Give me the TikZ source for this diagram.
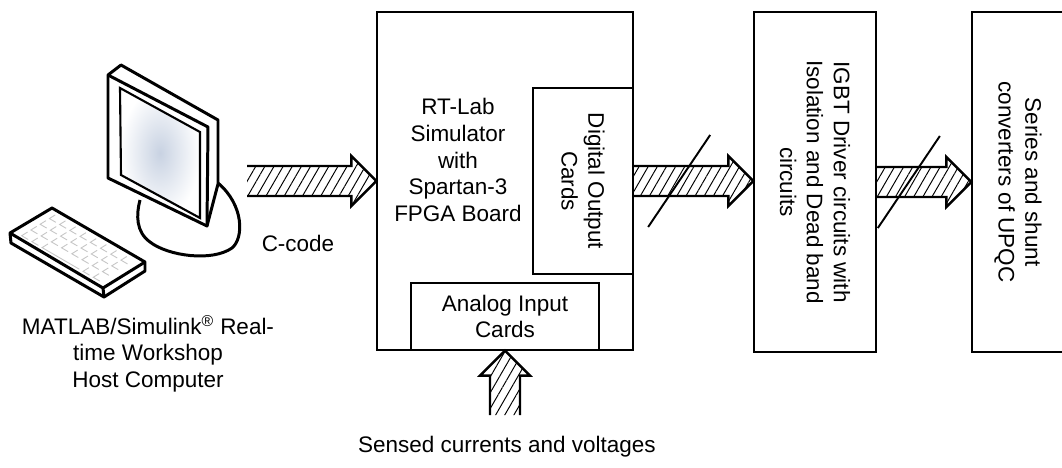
\documentclass[tikz,border=0pt]{standalone}
\usepackage{fontspec}
\setmainfont{Liberation Sans}
\usetikzlibrary{calc,patterns.meta}

\definecolor{screengray}{RGB}{200,210,226}

\tikzset{
    block/.style={draw, line width=0.8pt, inner sep=0pt},
    lbl/.style={font=\fontsize{12.8}{15.3}\selectfont, align=center, inner sep=1pt},
    hatchline/.style={line width=1.4pt, line join=miter},
    hatchfill/.style={pattern={Lines[angle=60,distance=4.5pt,line width=0.55pt]}},
    slash/.style={line width=1.1pt},
    case/.style={line width=1.7pt, line join=round},
    key/.style={gray!45, line width=0.5pt},
}

% hatched block arrow: start, tip
\newcommand{\hatcharrow}[2]{%
    \coordinate (ah) at ($(#2)!0.5cm!(#1)$);
    \fill[hatchfill] ($(#1)!0.3cm!90:(#2)$) -- ($(ah)!0.3cm!90:(#2)$) -- ($(ah)!0.5cm!90:(#2)$) -- (#2)
        -- ($(ah)!0.5cm!-90:(#2)$) -- ($(ah)!0.3cm!-90:(#2)$) -- ($(#1)!0.3cm!-90:(#2)$) -- cycle;
    \draw[hatchline] ($(#1)!0.3cm!90:(#2)$) -- ($(ah)!0.3cm!90:(#2)$) -- ($(ah)!0.5cm!90:(#2)$) -- (#2)
        -- ($(ah)!0.5cm!-90:(#2)$) -- ($(ah)!0.3cm!-90:(#2)$) -- ($(#1)!0.3cm!-90:(#2)$);
}

\begin{document}
\begin{tikzpicture}[x=0.02cm, y=-0.02cm]
    \useasboundingbox (0,0) rectangle (1062,467);

    % Host computer: stand, monitor, keyboard
    \draw[case, fill=white] (140,200) .. controls (136,215) and (136,232) .. (150,242)
        .. controls (168,256) and (212,262) .. (232,248)
        .. controls (244,238) and (244,205) .. (218,183);
    \draw[case, fill=white] (108,75) -- (121,65) -- (218,120) -- (218,184) -- (207,226) -- (108,178) -- cycle;
    \draw[case] (108,75) -- (208,127) -- (207,226);
    \shade[inner color=screengray, outer color=white] (120,88) -- (200,132) -- (200,218) -- (121,175) -- cycle;
    \draw[line width=1.2pt] (120,88) -- (200,132) -- (200,218) -- (121,175) -- cycle;

    \draw[case, fill=white] (10,233) -- (52,208) -- (145,262) -- (145,271) -- (104,297) -- (11,243) -- cycle;
    \draw[case] (10,233) -- (103,288) -- (145,262);
    \draw[case] (103,288) -- (104,297);
    \begin{scope}[shift={(52,208)}, x={(1.86cm,-1.08cm)}, y={(-0.84cm,-0.52cm)}]
        \foreach \i in {0,...,7}
            \foreach \j in {0,1,2}
                \draw[key] (0.08+\i*0.11,0.1+\j*0.22) -- ++(0,0.14) -- ++(0.07,0);
        \foreach \i in {0,1,6,7}
            \draw[key] (0.08+\i*0.11,0.76) -- ++(0,0.14) -- ++(0.07,0);
        \draw[key] (0.30,0.76) -- ++(0,0.14) -- ++(0.40,0);
    \end{scope}

    \node[lbl] (pclbl) at (148,354) {MATLAB/Simulink\textsuperscript{\textregistered} Real-\\time Workshop\\Host Computer};
    \node[lbl] (ccode) at (298,243) {C-code};

    % Simulator with its I/O cards
    \node[block, minimum width=5.12cm, minimum height=6.76cm] (sim) at (505,181) {};
    \node[lbl] (simtxt) at (458,160) {RT-Lab\\Simulator\\with\\Spartan-3\\FPGA Board};
    \node[block, minimum width=2cm, minimum height=3.72cm] (dout) at (583,181) {};
    \node[lbl, rotate=-90] at (dout) {Digital Output\\Cards};
    \node[block, minimum width=3.76cm, minimum height=1.34cm] (ain) at (505,316.5) {};
    \node[lbl] at (ain) {Analog Input\\Cards};

    % Driver and converter blocks
    \node[block, minimum width=2.44cm, minimum height=6.8cm] (igbt) at (815,182) {};
    \node[lbl, rotate=-90] at (igbt) {IGBT Driver circuits with\\Isolation and Dead band\\circuits};
    \node[block, minimum width=1.92cm, minimum height=6.8cm] (upqc) at (1020,182) {};
    \node[lbl, rotate=-90] at (1018,182) {Series and shunt\\converters of UPQC};

    % Arrows
    \coordinate (pcout) at (247,181);
    \coordinate (drvin) at (dout.east -| igbt.west);
    \coordinate (cnvin) at (igbt.east -| upqc.west);
    \coordinate (sense) at (505,415);
    \hatcharrow{pcout}{sim.west}
    \hatcharrow{dout.east}{drvin}
    \hatcharrow{igbt.east}{cnvin}
    \hatcharrow{sense}{ain.south}

    % bus slashes
    \draw[slash] ($(dout.east)!0.38!(drvin)+(-31,46)$) -- ($(dout.east)!0.38!(drvin)+(31,-46)$);
    \draw[slash] ($(igbt.east)!0.34!(cnvin)+(-31,46)$) -- ($(igbt.east)!0.34!(cnvin)+(31,-46)$);

    \node[lbl] (sensetxt) at (507,447) {Sensed currents and voltages};
\end{tikzpicture}
\end{document}
